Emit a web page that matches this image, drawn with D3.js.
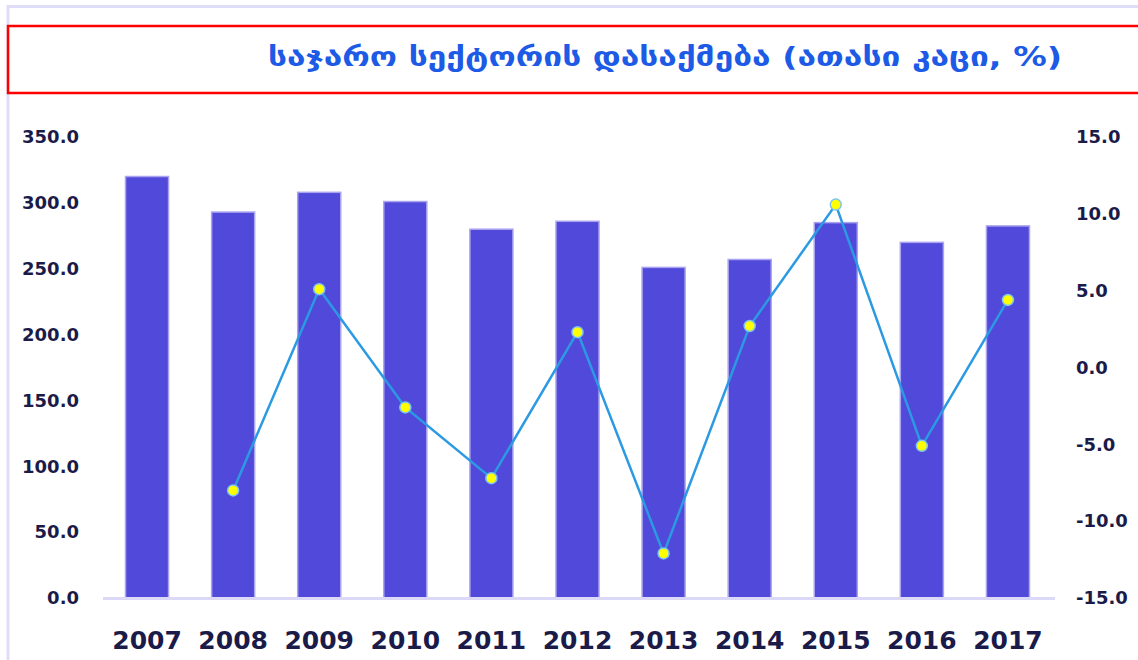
<!DOCTYPE html>
<html lang="ka">
<head>
<meta charset="UTF-8">
<title>საჯარო სექტორის დასაქმება</title>
<script src="https://d3js.org/d3.v7.min.js"></script>
<style>
    body{margin:0;background:#fff;}
    svg{display:block;}
    .tick text{font-family:"DejaVu Sans",Verdana,sans-serif;font-weight:bold;fill:#1b1b4a;}
</style>
</head>
<body>
<svg id="chart" width="1138" height="660"></svg>
<script>
    // data
    const years = ['2007','2008','2009','2010','2011','2012','2013','2014','2015','2016','2017'];
    const employed = [320, 293, 308, 301, 280, 286, 251, 257, 285, 270, 282.5];
    const change = [null, -8.0, 5.1, -2.6, -7.2, 2.3, -12.1, 2.7, 10.6, -5.1, 4.4];
    const leftTicks = [0, 50, 100, 150, 200, 250, 300, 350];
    const rightTicks = [-15, -10, -5, 0, 5, 10, 15];
    const title = 'საჯარო სექტორის დასაქმება (ათასი კაცი, %)';

    const width = 1138, height = 660;
    const svg = d3.select('#chart');

    // outer frame + title box
    svg.append('rect')
        .attr('x', 8).attr('y', 6.5)
        .attr('width', width + 20).attr('height', height + 20)
        .attr('fill', 'none')
        .attr('stroke', '#e0ddf9')
        .attr('stroke-width', 3);
    svg.append('rect')
        .attr('x', 8).attr('y', 26)
        .attr('width', width + 20).attr('height', 67)
        .attr('fill', 'none')
        .attr('stroke', '#f00')
        .attr('stroke-width', 2.5);
    svg.append('text')
        .attr('x', 268).attr('y', 58)
        .attr('dominant-baseline', 'middle')
        .attr('textLength', 794)
        .attr('lengthAdjust', 'spacingAndGlyphs')
        .attr('font-family', '"DejaVu Sans",sans-serif')
        .attr('font-weight', 'bold')
        .attr('font-size', 26)
        .attr('fill', '#1d5ae6')
        .text(title);

    // scales
    const x = d3.scaleBand().domain(years).range([104, 1051]).paddingInner(0.5).paddingOuter(0.25);
    const yL = d3.scaleLinear().domain([0, 350]).range([598, 137]);
    const yR = d3.scaleLinear().domain([-15, 15]).range([598, 137]);

    // bars
    svg.append('g').selectAll('rect')
        .data(employed)
        .join('rect')
        .attr('x', (d, i) => x(years[i]))
        .attr('width', x.bandwidth())
        .attr('y', d => yL(d))
        .attr('height', d => yL(0) - yL(d))
        .attr('fill', '#5149d9')
        .attr('stroke', '#aaa4f0')
        .attr('stroke-width', 1.5);

    // baseline
    svg.append('line')
        .attr('x1', 103).attr('x2', 1055)
        .attr('y1', yL(0) + 0.5).attr('y2', yL(0) + 0.5)
        .attr('stroke', '#dcd9f8')
        .attr('stroke-width', 3);

    // axes
    const axL = svg.append('g')
        .attr('transform', 'translate(84,0)')
        .call(d3.axisLeft(yL).tickValues(leftTicks).tickSize(0).tickPadding(5).tickFormat(d => d.toFixed(1)));
    axL.select('.domain').remove();
    axL.selectAll('text').attr('font-size', 18);

    const axR = svg.append('g')
        .attr('transform', 'translate(1071,0)')
        .call(d3.axisRight(yR).tickValues(rightTicks).tickSize(0).tickPadding(5).tickFormat(d => d.toFixed(1)));
    axR.select('.domain').remove();
    axR.selectAll('text').attr('font-size', 18);

    const axX = svg.append('g')
        .attr('transform', 'translate(0,631)')
        .call(d3.axisBottom(x).tickSize(0).tickPadding(0));
    axX.select('.domain').remove();
    axX.selectAll('text').attr('font-size', 25).attr('fill', '#0c0c5c');

    // line series
    const pts = change.map((v, i) => ({ year: years[i], v })).filter(d => d.v !== null);
    const line = d3.line()
        .x(d => x(d.year) + x.bandwidth() / 2)
        .y(d => yR(d.v));
    svg.append('path')
        .datum(pts)
        .attr('d', line)
        .attr('fill', 'none')
        .attr('stroke', '#2b9ae2')
        .attr('stroke-width', 2.5);
    svg.append('g').selectAll('circle')
        .data(pts)
        .join('circle')
        .attr('cx', d => x(d.year) + x.bandwidth() / 2)
        .attr('cy', d => yR(d.v))
        .attr('r', 5.5)
        .attr('fill', '#ffff00')
        .attr('stroke', '#7fc3ee')
        .attr('stroke-width', 1.5);
</script>
</body>
</html>
